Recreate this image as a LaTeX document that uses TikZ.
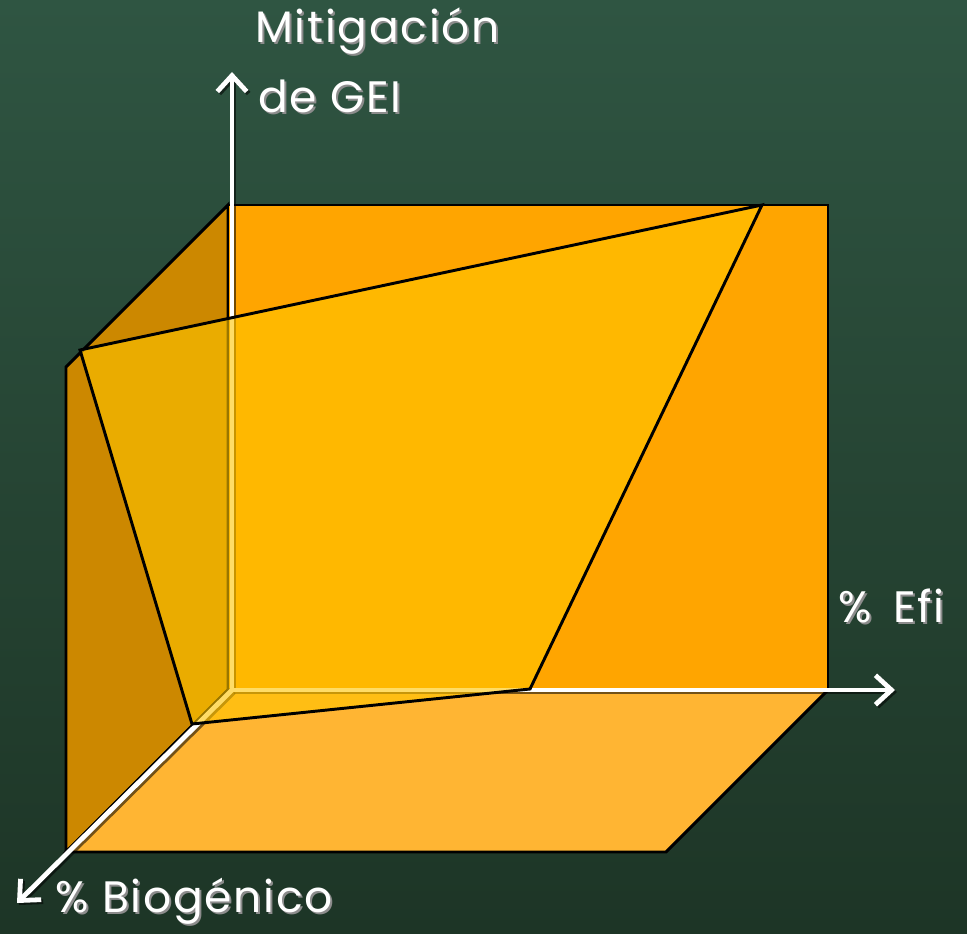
\documentclass[tikz,border=0pt]{standalone}
\usepackage{fontspec}
\setmainfont{Poppins}[LetterSpace=4]
\usetikzlibrary{arrows.meta}
\definecolor{bgtop}{HTML}{2F5542}
\definecolor{bgbot}{HTML}{1D3526}
\definecolor{backface}{HTML}{FFA500}
\definecolor{leftface}{HTML}{CC8800}
\definecolor{floorface}{HTML}{FFB533}
\definecolor{planecol}{HTML}{FFC500}
\definecolor{shadowgray}{HTML}{8C8C8C}
\begin{document}
\begin{tikzpicture}[x=0.75pt,y=-0.75pt,
  edge/.style={draw=black,line width=2.2pt,line join=miter},
  axisline/.style={white,line width=3.6pt,-{Straight Barb[length=12pt,width=22pt]}},
  axisshadow/.style={black,opacity=0.55,line width=3.6pt,-{Straight Barb[length=12pt,width=22pt]}},
  lbl/.style={text=white,font=\fontsize{33}{38}\selectfont,inner sep=0pt,anchor=base west},
  lblshadow/.style={text=shadowgray,font=\fontsize{33}{38}\selectfont,inner sep=0pt,anchor=base west}]
\useasboundingbox (0,0) rectangle (967,934);
% background
\shade[top color=bgtop,bottom color=bgbot] (0,0) rectangle (967,934);
% box faces
\filldraw[fill=leftface,edge] (228,205) -- (228,690) -- (66,852) -- (66,367) -- cycle;
\filldraw[fill=backface,edge] (228,205) -- (828,205) -- (828,690) -- (228,690) -- cycle;
\filldraw[fill=floorface,edge] (228,690) -- (828,690) -- (666,852) -- (66,852) -- cycle;
% axes
\coordinate (o) at (232,690);
\coordinate (yend) at (232,72);
\coordinate (xend) at (895,690);
\coordinate (zend) at (17,903);
\coordinate (os) at (234,692);
\coordinate (yends) at (234,74);
\coordinate (xends) at (897,692);
\coordinate (zends) at (19,905);
\draw[axisshadow] (os) -- (yends);
\draw[axisshadow] (os) -- (xends);
\draw[axisshadow] (os) -- (zends);
\draw[axisline] (o) -- (yend);
\draw[axisline] (o) -- (xend);
\draw[axisline] (o) -- (zend);
% plane
\coordinate (p1) at (80,350);
\coordinate (p2) at (762,205);
\coordinate (p3) at (530,689);
\coordinate (p4) at (192,724);
\fill[planecol,opacity=0.6] (p1) -- (p2) -- (p3) -- (p4) -- cycle;
\draw[edge] (p1) -- (p2) -- (p3) -- (p4) -- cycle;
% labels
\node[lblshadow] (t1s) at (257,45) {Mitigación};
\node[lbl] (t1) at (255,43) {Mitigación};
\node[lblshadow] (t2s) at (260,115) {de GEI};
\node[lbl] (t2) at (258,113) {de GEI};
\node[lblshadow] (t3s) at (840,624) {\%\hspace{6pt} Efi};
\node[lbl] (t3) at (838,622) {\%\hspace{6pt} Efi};
\node[lblshadow] (t4s) at (57,914) {\% Biogénico};
\node[lbl] (t4) at (55,912) {\% Biogénico};
\end{tikzpicture}
\end{document}
